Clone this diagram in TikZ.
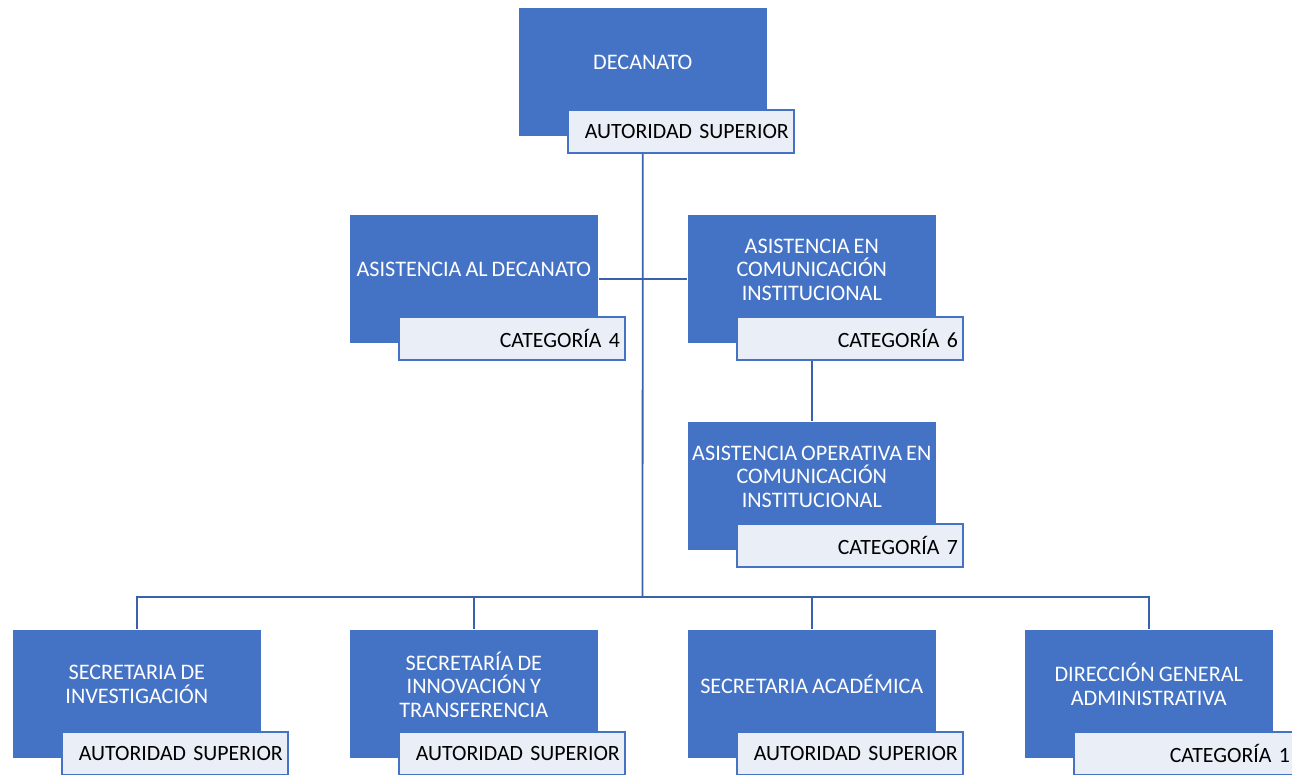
\documentclass[tikz,border=0pt]{standalone}
\usepackage{fontspec}
\setmainfont{Carlito}[WordSpace=0.8]
\definecolor{boxblue}{HTML}{4472C4}
\definecolor{labfill}{HTML}{E9EEF7}
\definecolor{linkblue}{HTML}{3A62AC}
\tikzset{
  bluebox/.style={rectangle, fill=boxblue, draw=white, line width=0.6pt, minimum width=249pt, minimum height=129pt, anchor=north west, inner sep=0pt},
  btext/.style={text=white, align=center, font=\fontsize{22.2}{23.5}\selectfont, inner sep=0pt},
  labbox/.style={rectangle, fill=labfill, draw=boxblue, line width=1.6pt, minimum width=226pt, minimum height=43pt, text width=216pt, inner xsep=5pt, inner ysep=0pt, align=right, anchor=north west, font=\fontsize{21.8}{24}\selectfont, text=black},
  link/.style={draw=linkblue, line width=1.8pt},
}
\newcommand{\orgunit}[5]{%
  \node[bluebox] (#1) at (#2,#3) {};
  \node[btext] (#1t) at ([yshift=-55.5pt]#1.north) {#4};
  \node[labbox] (#1l) at (#2+49,#3+102) {#5};
}
\begin{document}
\begin{tikzpicture}[x=1pt,y=-1pt]
\useasboundingbox (0,0) rectangle (1292,774);
\clip (0,0) rectangle (1292,774);
\fill[white] (0,0) rectangle (1292,774);
\orgunit{dec}{518}{7}{DECANATO}{AUTORIDAD SUPERIOR}
\orgunit{aad}{349}{214}{ASISTENCIA AL DECANATO}{CATEGORÍA 4}
\orgunit{aec}{687}{214}{ASISTENCIA EN\\COMUNICACIÓN\\INSTITUCIONAL}{CATEGORÍA 6}
\orgunit{aoc}{687}{421}{ASISTENCIA OPERATIVA EN\\COMUNICACIÓN\\INSTITUCIONAL}{CATEGORÍA 7}
\orgunit{sin}{12}{629}{SECRETARIA DE\\INVESTIGACIÓN}{AUTORIDAD SUPERIOR}
\orgunit{sit}{349}{629}{SECRETARÍA DE\\INNOVACIÓN Y\\TRANSFERENCIA}{AUTORIDAD SUPERIOR}
\orgunit{sac}{687}{629}{SECRETARIA ACADÉMICA}{AUTORIDAD SUPERIOR}
\node[bluebox] (dga) at (1024,629) {};
\node[btext] (dgat) at ([yshift=-55.5pt]dga.north) {DIRECCIÓN GENERAL\\ADMINISTRATIVA};
\node[labbox, text width=210pt, inner xsep=8pt] (dgal) at (1073,731) {CATEGORÍA 1\hspace*{2pt}};
% connectors
\coordinate (bus) at (642.5,597);
\draw[link] (dec.center |- decl.south) -- (bus);
\draw[link] (aad.east |- 0,279) -- (aec.west |- 0,279);
\draw[link] (aec.center |- aecl.south) -- (aoc.north);
\draw[link] (sin.north) -- (sin.north |- bus) -- (dga.north |- bus) -- (dga.north);
\draw[link] (sit.north |- bus) -- (sit.north);
\draw[link] (sac.north |- bus) -- (sac.north);
\end{tikzpicture}
\end{document}
